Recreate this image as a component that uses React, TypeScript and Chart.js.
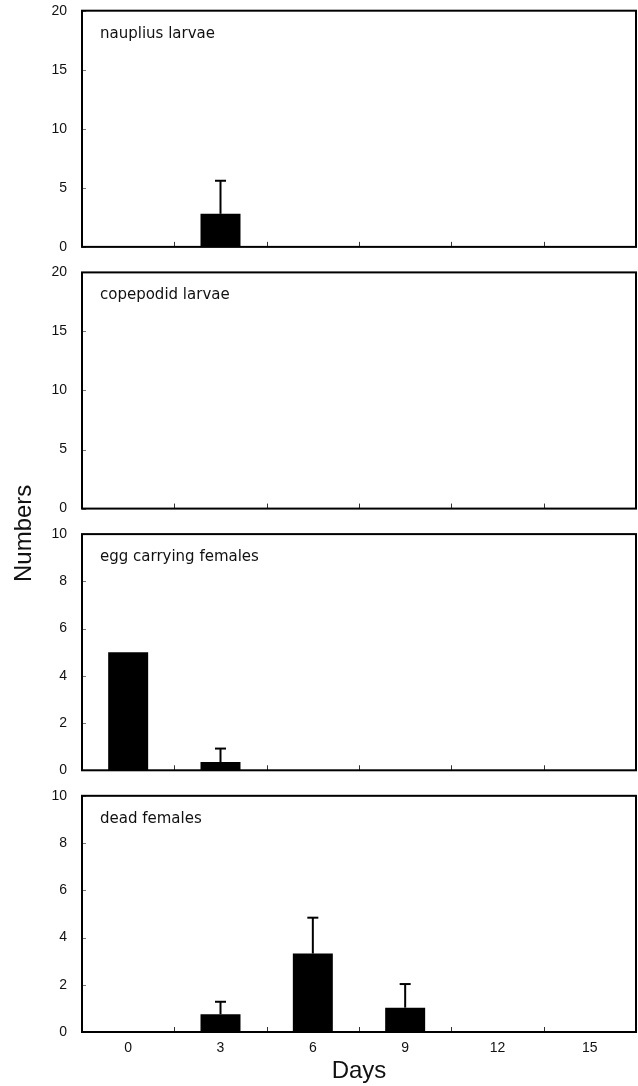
import React, { useEffect, useRef } from "react";
import { Chart, registerables } from "chart.js";

Chart.register(...registerables);

// ---- data ----
const days = ["0", "3", "6", "9", "12", "15"];

const naupliusMean = [0, 2.8, 0, 0, 0, 0];
const naupliusSD = [0, 2.8, 0, 0, 0, 0];

const copepodidMean = [0, 0, 0, 0, 0, 0];
const copepodidSD = [0, 0, 0, 0, 0, 0];

const eggFemaleMean = [5, 0.35, 0, 0, 0, 0];
const eggFemaleSD = [0, 0.57, 0, 0, 0, 0];

const deadFemaleMean = [0, 0.75, 3.32, 1.03, 0, 0];
const deadFemaleSD = [0, 0.53, 1.52, 1.0, 0, 0];

const panelTitles = ["nauplius larvae", "copepodid larvae", "egg carrying females", "dead females"];
const panelMax = [20, 20, 10, 10];
const panelStep = [5, 5, 2, 2];

const xTitle = "Days";
const yTitle = "Numbers";

// ---- layout / styling ----
const W = 638;
const H = 1086;
const AXIS_W = 82;
const PANEL_WEIGHT = 236;
const GAP_WEIGHT = 25.5;
const TICK_FONT = { family: "'Liberation Sans', Arial, sans-serif", size: 14 };
const TITLE_FONT_FAMILY = "'Liberation Sans', Arial, sans-serif";

const means = [naupliusMean, copepodidMean, eggFemaleMean, deadFemaleMean];
const sds = [naupliusSD, copepodidSD, eggFemaleSD, deadFemaleSD];
const panelIds = ["y1", "y2", "y3", "y4"];

const panelPlugin = {
  id: "panelDecor",
  afterDatasetsDraw(chart: any) {
    const ctx = chart.ctx as CanvasRenderingContext2D;
    const xs = chart.scales.x;
    const { left, right } = chart.chartArea;
    panelIds.forEach((id, i) => {
      const ys = chart.scales[id];
      const top = ys.top;
      const bottom = ys.bottom;
      ctx.save();
      // error bars (upper only)
      const meta = chart.getDatasetMeta(i);
      meta.data.forEach((bar: any, j: number) => {
        const sd = sds[i][j];
        if (!sd) return;
        const yTop = ys.getPixelForValue(means[i][j] + sd);
        ctx.strokeStyle = "#000";
        ctx.lineWidth = 2;
        ctx.beginPath();
        ctx.moveTo(bar.x, bar.y);
        ctx.lineTo(bar.x, yTop);
        ctx.stroke();
        ctx.beginPath();
        ctx.moveTo(bar.x - 5.5, yTop);
        ctx.lineTo(bar.x + 5.5, yTop);
        ctx.stroke();
      });
      // inner y tick marks
      ctx.strokeStyle = "#777";
      ctx.lineWidth = 1;
      ys.ticks.forEach((t: any) => {
        const py = Math.round(ys.getPixelForValue(t.value)) + 0.5;
        ctx.beginPath();
        ctx.moveTo(left, py);
        ctx.lineTo(left + 4, py);
        ctx.stroke();
      });
      // inner x tick marks at category boundaries
      ctx.strokeStyle = "#333";
      ctx.lineWidth = 1;
      for (let k = 0; k < days.length - 1; k++) {
        const px = Math.round((xs.getPixelForValue(k) + xs.getPixelForValue(k + 1)) / 2) + 0.5;
        ctx.beginPath();
        ctx.moveTo(px, bottom);
        ctx.lineTo(px, bottom - 5);
        ctx.stroke();
      }
      // frame
      ctx.strokeStyle = "#000";
      ctx.lineWidth = 2;
      ctx.strokeRect(left, top, right - left, bottom - top);
      // panel title
      ctx.fillStyle = "#111";
      ctx.font = "15px 'DejaVu Sans', sans-serif";
      ctx.textAlign = "left";
      ctx.textBaseline = "middle";
      ctx.fillText(panelTitles[i], left + 18, top + 23);
      ctx.restore();
    });
    // shared y title
    const { top, bottom } = chart.chartArea;
    ctx.save();
    ctx.translate(24, (top + bottom) / 2 + 12);
    ctx.rotate(-Math.PI / 2);
    ctx.fillStyle = "#111";
    ctx.font = `24px ${TITLE_FONT_FAMILY}`;
    ctx.textAlign = "center";
    ctx.textBaseline = "middle";
    ctx.fillText(yTitle, 0, 0);
    ctx.restore();
  },
};

function fixWidth(s: any) {
  s.width = AXIS_W;
  s.paddingTop = 0;
  s.paddingBottom = 0;
}

function panelAxis(i: number) {
  return {
    type: "linear",
    position: "left",
    stack: "panels",
    stackWeight: PANEL_WEIGHT,
    min: 0,
    max: panelMax[i],
    grid: { display: false, drawTicks: false },
    border: { display: false },
    ticks: { stepSize: panelStep[i], font: TICK_FONT, color: "#111", padding: 15 },
    afterFit: fixWidth,
  };
}

function gapAxis() {
  return {
    type: "linear",
    position: "left",
    stack: "panels",
    stackWeight: GAP_WEIGHT,
    grid: { display: false, drawTicks: false },
    border: { display: false },
    ticks: { display: false },
    afterFit: fixWidth,
  };
}

export default function App() {
  const ref = useRef<HTMLCanvasElement | null>(null);

  useEffect(() => {
    if (!ref.current) return;
    const datasets = means.map((m, i) => ({
      label: panelTitles[i],
      data: m,
      yAxisID: panelIds[i],
      backgroundColor: "#000",
      borderWidth: 0,
      grouped: false,
      barPercentage: 0.433,
      categoryPercentage: 1,
    }));
    const chart = new Chart(ref.current, {
      type: "bar",
      data: { labels: days, datasets },
      options: {
        responsive: false,
        animation: false,
        devicePixelRatio: 1,
        layout: { padding: { top: 10.7, left: 0, right: 2, bottom: 0 } },
        plugins: { legend: { display: false }, tooltip: { enabled: false } },
        scales: {
          x: {
            type: "category",
            position: "bottom",
            grid: { display: false, drawTicks: false },
            border: { display: false },
            ticks: { font: TICK_FONT, color: "#111", padding: 8 },
            title: {
              display: true,
              text: xTitle,
              color: "#111",
              font: { family: TITLE_FONT_FAMILY, size: 24 },
              padding: { top: 0, bottom: 0 },
            },
            afterFit: (s: any) => {
              s.height = 54;
              s.paddingLeft = 0;
              s.paddingRight = 0;
            },
          },
          y4: panelAxis(3),
          g3: gapAxis(),
          y3: panelAxis(2),
          g2: gapAxis(),
          y2: panelAxis(1),
          g1: gapAxis(),
          y1: panelAxis(0),
        } as any,
      },
      plugins: [panelPlugin],
    });
    return () => chart.destroy();
  }, []);

  return (
    <div style={{ position: "absolute", left: 0, top: 0, width: W, height: H, background: "#fff" }}>
      <canvas ref={ref} width={W} height={H} style={{ display: "block", width: W, height: H }} />
    </div>
  );
}
